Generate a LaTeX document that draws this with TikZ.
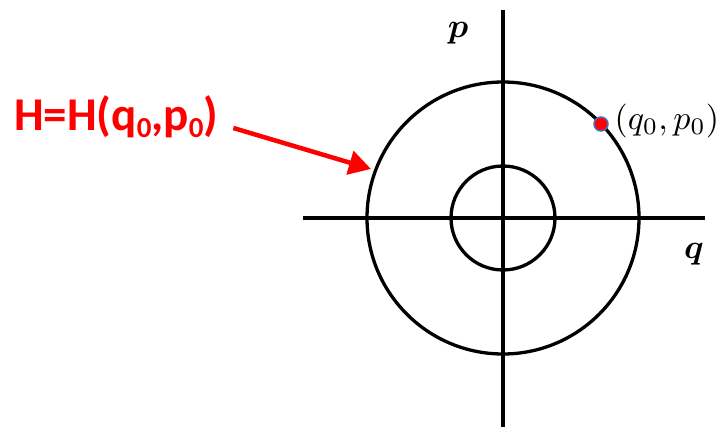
\documentclass[tikz,border=0pt]{standalone}
\usepackage{fontspec}
\newfontfamily\calib{Carlito}
\usetikzlibrary{arrows.meta}
\definecolor{pptred}{HTML}{FF0000}
\definecolor{dotedge}{HTML}{4472C4}
\tikzset{
  axis/.style={line width=3.1pt, black},
  orbit/.style={line width=3.3pt, black},
  redarrow/.style={pptred, line width=4.5pt, -{Triangle[length=22pt,width=24pt]}},
  redlabel/.style={text=pptred, font=\calib\bfseries\fontsize{47}{50}\selectfont, inner sep=0pt, anchor=west},
  axlabel/.style={font=\boldmath, inner sep=0pt, scale=3.4, transform shape},
  ptlabel/.style={inner sep=0pt, anchor=west, scale=3.4, transform shape},
  reddot/.style={circle, fill=pptred, draw=dotedge, line width=1.5pt, minimum size=14pt, inner sep=0pt}
}
\newcommand{\rsub}[1]{\raisebox{-0.14em}{\fontsize{29}{30}\selectfont #1}}
\begin{document}
\begin{tikzpicture}[x=1pt,y=-1pt]
\fill[white] (0,0) rectangle (725,428);
\useasboundingbox (0,0) rectangle (725,428);
\coordinate (O) at (503,218);
\coordinate (vtop) at (503,10);
\coordinate (vbot) at (503,427);
\coordinate (hleft) at (303,218);
\coordinate (hright) at (705,218);
\draw[axis] (vtop) -- (vbot);
\draw[axis] (hleft) -- (hright);
\draw[orbit] (O) circle[radius=136];
\draw[orbit] (O) circle[radius=52];
\node[axlabel] (plab) at (458,33) {$p$};
\node[axlabel] (qlab) at (694,254) {$q$};
\node[reddot] (pt) at (601,124) {};
\node[ptlabel] (ptlab) at (614,121) {$(q_0,p_0)$};
\node[redlabel] (htext) at (14,117) {H=H(q\rsub{0},p\rsub{0})};
\coordinate (harrowend) at (371,169);
\draw[redarrow] ([shift={(15,11)}]htext.east) -- (harrowend);
\end{tikzpicture}
\end{document}
